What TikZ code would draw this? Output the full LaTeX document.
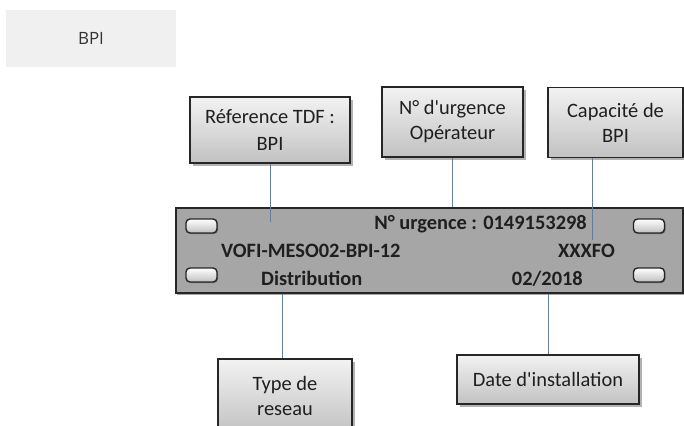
\documentclass[tikz,border=0pt]{standalone}
\usepackage{fontspec}
\setmainfont{Carlito}[Ligatures=TeXOff]
\newfontfamily\uifont{Open Sans}
\usetikzlibrary{shadows}
\definecolor{linkblue}{HTML}{4F81BD}
\definecolor{panelgray}{HTML}{A6A6A6}
\definecolor{edgegray}{HTML}{262626}
\definecolor{txtcol}{HTML}{1F1F1F}
\definecolor{tagfill}{HTML}{F0F0F0}
\tikzset{
  labelbox/.style={draw=edgegray, line width=1.3bp, top color=white!95!black, bottom color=black!24,
    drop shadow={shadow xshift=2.5bp, shadow yshift=-2.5bp, opacity=0.3, fill=black},
    align=center, text=txtcol, inner sep=0pt, font=\fontsize{20.5}{25}\selectfont},
  panel/.style={draw=edgegray, line width=2bp, fill=panelgray, inner sep=0pt,
    drop shadow={shadow xshift=1.5bp, shadow yshift=-2bp, opacity=0.35, fill=black}},
  slot/.style={draw=black!85, line width=1.4bp, rounded corners=4bp, top color=white, bottom color=black!25,
    minimum width=31bp, minimum height=14bp, inner sep=0pt,
    drop shadow={shadow xshift=1bp, shadow yshift=-1bp, opacity=0.3, fill=black}},
  paneltext/.style={font=\bfseries\fontsize{20.5}{24}\selectfont, text=txtcol, inner sep=0pt},
  link/.style={draw=linkblue, line width=1bp}
}
\begin{document}
\begin{tikzpicture}[x=1bp,y=-1bp]
\useasboundingbox (0,0) rectangle (684,425);
\clip (0,0) rectangle (684,425);
\fill[white] (0,0) rectangle (684,425);

% top-left tag
\node[fill=tagfill, minimum width=170bp, minimum height=57bp, inner sep=0pt,
      font=\uifont\fontsize{17}{20}\selectfont, text=black!80] (tag) at (91,38.5) {BPI};

% main panel
\node[panel, minimum width=507bp, minimum height=85bp] (main) at (429.5,250.5) {};
\node[slot] (s1) at (201.5,226) {};
\node[slot] (s2) at (201.5,275) {};
\node[slot] (s3) at (649,226) {};
\node[slot] (s4) at (649,275) {};
\node[paneltext, anchor=base east] (urg) at (587,229) {N° urgence : 0149153298};
\node[paneltext, anchor=base west] (ref) at (221,257) {VOFI-MESO02-BPI-12};
\node[paneltext, anchor=base east] (cap) at (615,257) {XXXFO};
\node[paneltext, anchor=base west] (dist) at (261,285) {Distribution};
\node[paneltext, anchor=base east] (date) at (583,285) {02/2018};

% label boxes
\node[labelbox, minimum width=160bp, minimum height=66bp, font=\fontsize{20.5}{27}\selectfont] (b1) at (270,130) {Réference TDF :\\BPI};
\node[labelbox, minimum width=141bp, minimum height=70bp] (b2) at (452.5,122) {N° d'urgence\\Opérateur};
\node[labelbox, minimum width=135bp, minimum height=70bp] (b3) at (615.5,122.5) {Capacité de\\BPI};
\node[labelbox, minimum width=134bp, minimum height=74bp] (b4) at (285,396) {Type de\\reseau};
\node[labelbox, minimum width=182bp, minimum height=49bp] (b5) at (548,379.5) {Date d'installation};

% connector ends
\coordinate (e1) at (270,222);
\coordinate (x3) at (592,0);
\coordinate (e3) at (592,240);
\coordinate (x4) at (282,0);

\draw[link] (b1.south) -- (e1);
\draw[link] (b2.south) -- (b2.south |- main.north);
\draw[link] (b3.south -| x3) -- (e3);
\draw[link] (main.south -| x4) -- (b4.north -| x4);
\draw[link] (main.south -| b5.north) -- (b5.north);
\end{tikzpicture}
\end{document}
